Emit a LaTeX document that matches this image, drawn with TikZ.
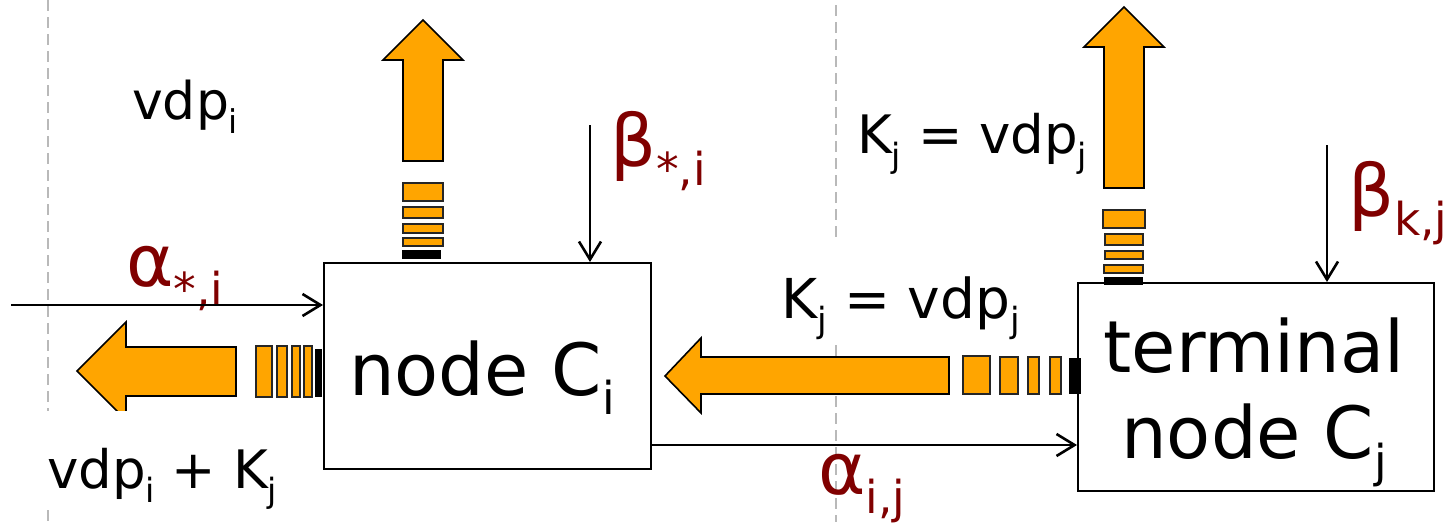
\documentclass[tikz,border=0pt]{standalone}
\usepackage{fontspec}
\setmainfont{DejaVu Sans}
\usetikzlibrary{arrows.meta}
\definecolor{orng}{RGB}{255,165,0}
\definecolor{dred}{RGB}{128,0,0}
\newcommand\sbx[1]{\raisebox{-0.27em}{\scalebox{0.63}{#1}}}
\begin{document}
\begin{tikzpicture}[x=1pt,y=-1pt,
  box/.style={draw, line width=1.7pt, inner sep=0pt, anchor=north west},
  fat/.style={draw=black, line width=1.6pt, fill=orng, line join=miter},
  stripe/.style={draw=black!85, line width=1.6pt, fill=orng},
  blk/.style={fill=black},
  thinarrow/.style={line width=2.6pt, -{Straight Barb[length=18pt,width=22pt]}},
  sep/.style={draw=gray!55, line width=2pt, dash pattern=on 11pt off 6pt},
  txt/.style={inner sep=0pt, anchor=base west},
  big/.style={font=\fontsize{72}{72}\selectfont},
  greek/.style={txt, text=dred, font=\fontsize{72}{72}\selectfont},
]
\useasboundingbox (0,0) rectangle (1447,522);
\fill[white] (0,0) rectangle (1447,522);

% separators
\coordinate (s1t) at (48,0);   \coordinate (s1b) at (48,522);
\coordinate (s2t) at (836,5);  \coordinate (s2b) at (836,522);
\draw[sep] (s1t) -- (s1b);
\draw[sep] (s2t) -- (s2b);

% boxes
\node[box, minimum width=327pt, minimum height=206pt] (ci) at (323,262) {};
\node[box, minimum width=356pt, minimum height=208pt] (cj) at (1077,282) {};
\node[txt, big] (citext) at (349,395) {node C\sbx{i}};
\node[inner sep=0pt, anchor=base, big] (cjt1) at (1254,372) {terminal};
\node[inner sep=0pt, anchor=base, big] (cjt2) at (1254,458) {node C\sbx{j}};

% left fat arrow
\draw[fat] (236,347) -- (126,347) -- (126,322) -- (77,371) -- (126,420) -- (126,396) -- (236,396) -- cycle;
\draw[stripe] (256,346) rectangle (272,397);
\draw[stripe] (277,346) rectangle (287,397);
\draw[stripe] (292,346) rectangle (300,397);
\draw[stripe] (304,346) rectangle (312,397);
\fill[blk] (315,349) rectangle (322,397);

% middle fat arrow
\draw[fat] (949,357) -- (701,357) -- (701,338) -- (665,376) -- (701,413) -- (701,394) -- (949,394) -- cycle;
\draw[stripe] (963,356) rectangle (990,394);
\draw[stripe] (1000,357) rectangle (1018,394);
\draw[stripe] (1028,357) rectangle (1039,394);
\draw[stripe] (1050,357) rectangle (1061,394);
\fill[blk] (1069,358) rectangle (1081,394);

% top-left fat arrow
\draw[fat] (403,161) -- (403,60) -- (383,60) -- (423,20) -- (463,60) -- (443,60) -- (443,161) -- cycle;
\draw[stripe] (403,183) rectangle (443,201);
\draw[stripe] (403,207) rectangle (443,218);
\draw[stripe] (403,224) rectangle (443,233);
\draw[stripe] (403,238) rectangle (443,246);
\fill[blk] (402,250) rectangle (441,259);

% top-right fat arrow
\draw[fat] (1104,188) -- (1104,47) -- (1084,47) -- (1124,7) -- (1164,47) -- (1144,47) -- (1144,188) -- cycle;
\draw[stripe] (1103,210) rectangle (1145,228);
\draw[stripe] (1105,234) rectangle (1143,245);
\draw[stripe] (1105,251) rectangle (1143,259);
\draw[stripe] (1104,265) rectangle (1143,273);
\fill[blk] (1104,277) rectangle (1143,285);

% plain labels
\node[txt, font=\fontsize{52}{52}\selectfont] (vdpi) at (132,119) {vdp\sbx{i}};
\node[txt, font=\fontsize{53}{53}\selectfont] (kup) at (857,153) {K\sbx{j} = vdp\sbx{j}};
\node[txt, fill=white, text height=78pt, text depth=25pt, font=\fontsize{55}{55}\selectfont] (kmid) at (781,318) {K\sbx{j} = vdp\sbx{j}};
\node[txt, fill=white, inner xsep=15pt, text height=77pt, text depth=17pt, font=\fontsize{53}{53}\selectfont] (vsum) at (32,488) {vdp\sbx{i} + K\sbx{j}};

% greek labels
\node[greek] (astar) at (126,286) {α\sbx{*,i}};
\node[greek] (bstar) at (610,166) {β\sbx{*,i}};
\node[greek] (bkj) at (1348,216) {β\sbx{k,j}};
\node[greek] (aij) at (818,494) {α\sbx{i,j}};

% thin arrows
\coordinate (a0) at (11,305);
\coordinate (b0) at (590,125);
\coordinate (b1) at (1327,145);
\coordinate (a1) at (ci.east |- 0,445);
\draw[thinarrow] (a0) -- (a0 -| ci.west);
\draw[thinarrow] (b0) -- (b0 |- ci.north);
\draw[thinarrow] (b1) -- (b1 |- cj.north);
\draw[thinarrow] (a1) -- (a1 -| cj.west);
\end{tikzpicture}
\end{document}
